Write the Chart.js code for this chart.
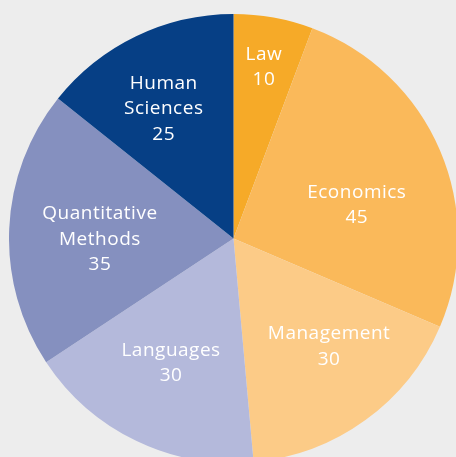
<!DOCTYPE html>
<html lang="en">
<head>
  <meta charset="UTF-8">
  <title>Pie</title>
  <script src="https://cdn.jsdelivr.net/npm/chart.js"></script>
  <style>
    html, body {
      margin: 0;
      padding: 0;
      width: 456px;
      height: 457px;
      background: #ededed;
      overflow: hidden;
    }
    #wrap {
      position: absolute;
      left: 9px;
      top: 14px;
    }
  </style>
</head>
<body>
  <div id="wrap"><canvas id="pie" width="449" height="449"></canvas></div>

  <script>
    const categories = ['Law', 'Economics', 'Management', 'Languages', 'Quantitative Methods', 'Human Sciences'];
    const labelLines = [['Law'], ['Economics'], ['Management'], ['Languages'], ['Quantitative', 'Methods'], ['Human', 'Sciences']];
    const values = [10, 45, 30, 30, 35, 25];
    const colors = ['#f6aa28', '#fab95a', '#fccb87', '#b4b9db', '#8590bf', '#063f85'];

    // label anchor: angle (deg, clockwise from top) and distance as fraction of radius
    const labelPlace = [
      { a: 10.0, f: 0.78 },
      { a: 74.5, f: 0.57 },
      { a: 138.3, f: 0.64 },
      { a: 206.8, f: 0.617 },
      { a: 270, f: 0.595 },
      { a: 331.9, f: 0.66 }
    ];

    const sliceLabels = {
      id: 'sliceLabels',
      afterDatasetsDraw(chart) {
        const ctx = chart.ctx;
        const meta = chart.getDatasetMeta(0);
        ctx.save();
        ctx.fillStyle = '#ffffff';
        ctx.font = '500 19px "Open Sans", sans-serif';
        ctx.textAlign = 'center';
        ctx.textBaseline = 'middle';
        if ('letterSpacing' in ctx) ctx.letterSpacing = '0.5px';
        const lh = 25.5;
        meta.data.forEach((arc, i) => {
          const p = labelPlace[i];
          const rad = p.a * Math.PI / 180;
          const r = arc.outerRadius * p.f;
          const cx = arc.x + Math.sin(rad) * r;
          const cy = arc.y - Math.cos(rad) * r + 1;
          const lines = labelLines[i].concat([String(values[i])]);
          const y0 = cy - (lines.length - 1) * lh / 2;
          lines.forEach((t, k) => ctx.fillText(t, cx, y0 + k * lh));
        });
        ctx.restore();
      }
    };

    new Chart(document.getElementById('pie'), {
      type: 'pie',
      data: {
        labels: categories,
        datasets: [{
          data: values,
          backgroundColor: colors,
          borderWidth: 0
        }]
      },
      options: {
        responsive: false,
        animation: false,
        devicePixelRatio: 1,
        layout: { padding: 0 },
        plugins: {
          legend: { display: false },
          tooltip: { enabled: false }
        }
      },
      plugins: [sliceLabels]
    });
  </script>
</body>
</html>
